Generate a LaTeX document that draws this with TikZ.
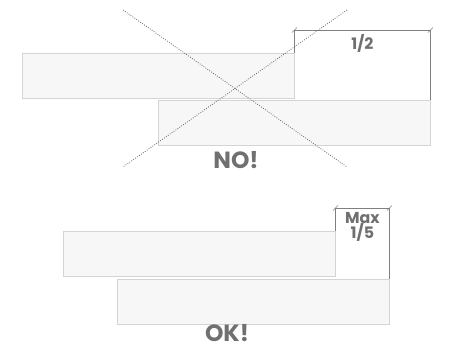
\documentclass[tikz,border=0pt]{standalone}
\usepackage{fontspec}
\setmainfont{Poppins}
\usetikzlibrary{calc}
\definecolor{plankfill}{RGB}{247,247,247}
\definecolor{plankline}{RGB}{212,212,212}
\definecolor{dimgray}{RGB}{128,128,128}
\definecolor{labelgray}{RGB}{112,112,112}
\tikzset{
  plank/.style={draw=plankline, fill=plankfill, line width=0.7pt, inner sep=0pt,
                minimum width=8.16cm, minimum height=1.35cm},
  dimline/.style={draw=dimgray, line width=0.6pt},
  ticks/.style={draw=dimgray, line width=0.5pt},
  crossline/.style={draw=dimgray!80!black, line width=0.7pt,
                    dash pattern=on 0.7pt off 1.3pt},
  dimlabel/.style={font=\bfseries\fontsize{13.5}{13}\selectfont, text=labelgray, align=center},
  verdict/.style={font=\bfseries\fontsize{20}{20}\selectfont, text=labelgray, inner sep=0pt},
}
\begin{document}
\begin{tikzpicture}[x=0.03cm, y=-0.03cm]
\useasboundingbox (0,0) rectangle (449,348);

% ---------------- wrong: half overlap ----------------
\node[plank] (p1) at (158,75.5) {};
\node[plank] (p2) at (294,122.5) {};

\coordinate (d1a) at (p1.north east |- 0,30);
\coordinate (d1b) at (p2.north east |- 0,30);
\draw[dimline] (p1.north east) -- (d1a) -- (d1b) -- (p2.north east);
\foreach \c in {d1a,d1b}
  \draw[ticks] ($(\c)+(-2.5,2.5)$) -- ($(\c)+(2.5,-2.5)$);
\node[dimlabel, below=0pt] (half) at ($(d1a)!0.5!(d1b)$) {1/2};

\coordinate (xa) at (123,10);
\coordinate (xb) at (347,167);
\coordinate (xc) at (347,10);
\coordinate (xd) at (123,167);
\draw[crossline] (xa) -- (xb);
\draw[crossline] (xc) -- (xd);
\node[verdict] (no) at (236,160) {NO!};

% ---------------- right: max one fifth ----------------
\node[plank] (p3) at (199,253.5) {};
\node[plank] (p4) at (253,301.5) {};

\coordinate (d2a) at (p3.north east |- 0,208);
\coordinate (d2b) at (p4.north east |- 0,208);
\draw[dimline] (p3.north east) -- (d2a) -- (d2b) -- (p4.north east);
\foreach \c in {d2a,d2b}
  \draw[ticks] ($(\c)+(-2.5,2.5)$) -- ($(\c)+(2.5,-2.5)$);
\node[dimlabel, below=0pt] (fifth) at ($(d2a)!0.5!(d2b)$) {Max\\1/5};

\node[verdict] (ok) at (227,333) {OK!};
\end{tikzpicture}
\end{document}
